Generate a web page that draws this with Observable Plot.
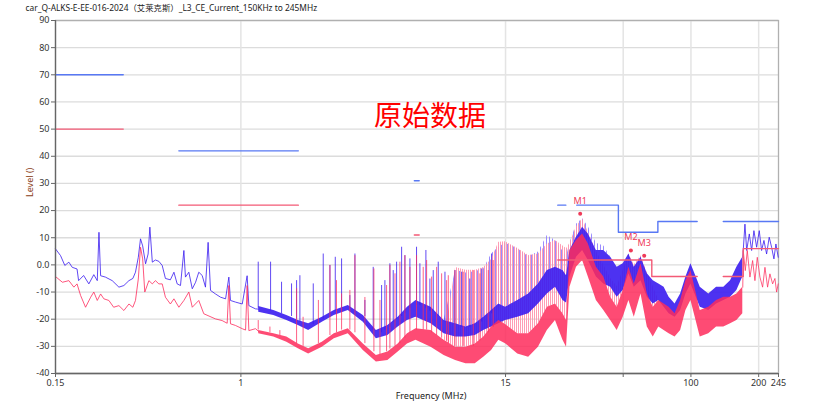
<!DOCTYPE html>
<html><head><meta charset="utf-8">
<script src="https://cdn.jsdelivr.net/npm/d3@7"></script>
<script src="https://cdn.jsdelivr.net/npm/@observablehq/plot@0.6"></script>
<style>html,body{margin:0;padding:0;background:#fff;}</style>
</head><body><div id="chart"></div>
<script>
const title = "car_Q-ALKS-E-EE-016-2024（艾莱克斯）_L3_CE_Current_150KHz to 245MHz";
const xTicks = [0.15, 1, 15, 50, 100, 200, 245];
const xGrid = [1, 15, 50, 100, 200];
const yTicks = [-40,-30,-20,-10,0,10,20,30,40,50,60,70,80,90];

// Peak trace (blue), low-frequency part
const peakLeftF = [0.150,0.158,0.165,0.172,0.178,0.187,0.190,0.200,0.211,0.222,0.230,0.234,0.238,0.250,0.268,0.287,0.302,0.318,0.331,0.340,0.350,0.358,0.366,0.377,0.387,0.394,0.404,0.417,0.432,0.447,0.462,0.486,0.504,0.521,0.539,0.558,0.567,0.587,0.608,0.629,0.650,0.673,0.696,0.715,0.733,0.771,0.812,0.855,0.884,0.899,0.946,1.014,1.066,1.085,1.161,1.2];
const peakLeftV = [5.9,3.4,-0.2,1,-0.9,-1.5,-5.8,-3.9,-7,-3.6,-5.8,12,-4,-4.5,-5.8,-8.2,-7.6,-5.8,-5,-2.7,2.8,9.6,7,0.4,4,13.9,1,1.8,1.3,-0.2,-5,-5.5,-2.7,-7,-7.6,5.3,-4.5,-2.7,-8.8,-6.4,-2.7,-3.9,-8.2,8.3,-9.4,-10.7,-11.9,-12.5,-4.5,-13.1,-13.7,-14.4,-4,-15,-16.2,-16.3];

// Average trace (red), low-frequency part
const avgLeftF = [0.150,0.161,0.172,0.181,0.187,0.194,0.204,0.215,0.222,0.230,0.238,0.246,0.259,0.272,0.287,0.302,0.318,0.331,0.340,0.350,0.358,0.366,0.374,0.390,0.404,0.417,0.432,0.447,0.462,0.486,0.504,0.530,0.558,0.587,0.608,0.650,0.684,0.771,0.825,0.869,0.884,0.899,0.946,1.014,1.049,1.066,1.085,1.161,1.2];
const avgLeftV = [-4.3,-6.4,-5.8,-8.2,-7,-11.3,-15.6,-11.9,-10,-13.1,-10.7,-12.5,-13.1,-15.6,-15,-16.8,-14.4,-15.6,-13.1,-5.2,6.5,2.2,-10,-5.8,-7,-5.8,-7,-7,-11.9,-14.4,-12.5,-15.6,-13.1,-10,-15.6,-13.1,-18,-19.9,-20.5,-21.5,-7.6,-21.7,-22.3,-23.5,-24,-7.6,-24.2,-23.5,-24.5];

// Dense sweep region: sample frequencies with lower/upper body and spike envelope
const bandF = [1.2,1.4,1.6,1.8,2,2.3,2.6,3,3.5,4,4.5,5,5.5,6,7,8,9,10,11,12,13,14,15,17,19,21,23,25,27,28,29,31,33,35,38,41,44,47,50,53,56,60,64,68,72,76,80,85,90,95,100,110,120,130,140,150,160,170];
const peakLo = [-17.4,-18.6,-20.5,-22.3,-24.2,-21.1,-18.6,-16.8,-21.1,-27.2,-26,-22.9,-20.5,-19.3,-21.7,-25.4,-26.6,-26.6,-26,-24.2,-22.9,-21.7,-20.5,-19.3,-18,-14.4,-10.7,-8.2,-13.1,-14,-4.5,2.8,5.3,1.6,-4.5,-7,-8.2,-11.9,-9.4,-3.3,-8.2,-5.8,-11.9,-14.4,-13.1,-15.6,-18,-19.3,-16.8,-10.7,-7,-15.6,-16.8,-14.4,-13.1,-11.9,-9.4,-4.5];
const peakHi = [-15.3,-16.8,-18.6,-20.5,-21.7,-19.3,-16.8,-15,-18.6,-24.2,-22.3,-19.3,-15.6,-13.1,-15.6,-20.5,-21.7,-22.9,-21.7,-19.3,-16.8,-14.4,-15.6,-13.1,-10.7,-7,-2.1,-0.9,-2.1,-4,5.3,10.2,13.9,11.4,5.3,5.3,2.8,-0.9,0.4,4,-0.9,2.8,-3.3,-5.8,-7,-8.2,-11.9,-14.4,-10.7,-4.5,0.4,-8.2,-10.7,-8.2,-8.2,-5.8,-0.9,2.8];
const peakEnv = [-15.3,-16.8,-18.6,-20.5,-21.7,-19.3,-16.8,-15,-18.6,-24.2,-22.3,-19.3,-15.6,-13.1,-15.6,-20.5,-2,-3,-2.5,-1.5,4,6.5,8,5.9,3,4.7,10.8,9,5,3,8,15,17,14,8,7,2.8,-0.9,0.4,4,-0.9,2.8,-3.3,-5.8,-7,-8.2,-11.9,-14.4,-10.7,-4.5,0.4,-8.2,-10.7,-8.2,-8.2,-5.8,-0.9,2.8];
const avgLo = [-25.4,-26.6,-28.5,-30.9,-32.8,-30.3,-27.2,-25.4,-31.5,-35.8,-35.2,-32.1,-29.1,-27.8,-30.3,-33.4,-35.2,-36.4,-36.4,-34,-31.5,-27.8,-29,-32.8,-34,-30.3,-24.2,-20.5,-27.8,-30.3,-8.2,-0.9,1.6,-4.5,-13.1,-16.8,-20.5,-24.2,-19.3,-13.1,-19.3,-10.7,-22.9,-26.6,-22.9,-24.2,-25.4,-26.6,-24.2,-16.8,-13.1,-26.6,-25.4,-22.9,-22.9,-21.7,-20.5,-18];
const avgHi = [-24.2,-25.4,-26.6,-29.1,-30.9,-28.5,-25.4,-23.5,-29.1,-33.4,-32.1,-29.1,-25.4,-23.5,-24.2,-27.8,-30.3,-30.3,-29.1,-26.6,-22.9,-20.5,-22,-25.4,-25.4,-21.7,-15.6,-14.4,-18,-20.5,5.3,9,11.4,7.7,-0.9,-4.5,-11.9,-15.6,-9.4,-0.9,-7,0.4,-10.7,-15.6,-13.1,-14.4,-15.6,-18,-13.1,-5.8,-2.1,-16.8,-15.6,-13.1,-11.9,-11.9,-10.7,-8.2];
const avgEnv = [-24.2,-25.4,-26.6,-29.1,-30.9,-28.5,-25.4,-23.5,-29.1,-33.4,-32.1,-29.1,-25.4,-23.5,-24.2,-27.8,-1,-2,-2,-1,2,8.3,8.5,6,3.5,4,7.7,9,7,5.9,8,14,17,12,5,0,-5,-8,-2,4,0,3.4,-3,-8,-13.1,-14.4,-15.6,-18,-13.1,-5.8,-2.1,-16.8,-15.6,-13.1,-11.9,-11.9,-10.7,-8.2];

// Isolated spikes (1.2 - 13 MHz)
const peakSpikeF = [1.194,1.355,1.516,1.679,1.768,1.829,2.097,2.322,2.487,2.627,2.802,3.050,3.212,3.557,3.873,4.220,4.365,4.594,4.753,4.920,5.179,5.357,5.638,6.034,6.245,6.640,6.918,7.158,7.534,8.07,8.94,9.57,10.4,11.75,13.0];
const peakSpikeTop = [1,1,-6.4,-7,-5.8,-4,-7,4,-0.2,2.8,2.2,-11.3,4,-13.1,-0.9,-7.6,-5.8,0.4,-2.1,1,6.5,3.4,2.2,6.5,0.4,5.3,-5.2,-2.1,1,-2.7,-2.1,-2.7,-5.2,-1.5,4];
const peakSpikeBase = [-16,-17,-18,-19,-20,-21,-22,-20,-18,-17,-16,-16,-17,-19,-24,-25,-24,-23,-21,-20,-19,-18,-16,-15,-15,-16,-17,-17,-19,-21,-22,-23,-23,-21,-18];
const avgSpikeF = [1.194,1.346,1.49,1.768,1.89,2.21,2.487,2.66,2.802,3.05,3.212,3.557,3.90,4.15,4.44,4.594,4.84,5.09,5.357,5.638,6.034,6.46,6.69,7.04,7.41,7.80,8.21,8.35,8.94,9.73,10.78,11.54,12.57,13.22];
const avgSpikeTop = [-20.5,-22.9,-24.2,-8.8,-19.3,-13.1,-0.2,-5.8,-10.7,-9.4,3.4,-12,-1.5,-13.1,-7.6,-0.2,-3.3,1,3.4,-0.9,3.4,-0.9,1.6,-4.5,-0.9,-3.3,-5.8,-4,-2.1,-2.7,-2.1,-3.3,-2.1,1.6];
const avgSpikeBase = [-24,-25,-26,-29,-30,-29,-26,-25,-24,-24,-25,-29,-32,-33,-32,-31,-30,-29,-27,-25,-24,-24,-24,-25,-26,-27,-28,-29,-30,-30,-30,-28,-25,-23];

// High-frequency part (> 170 MHz)
const peakRightF = [170,173.8,176.9,181.7,186.1,190.5,195.9,201.2,206.1,211.1,216.9,222.8,228.3,233.8,238.6,244.3];
const peakRightV = [2.8,15,5.3,11.4,5.3,12.6,6.5,12.6,5.3,9,4,10.2,6.5,2.2,7.7,2.8];
const avgRightF = [170,170.8,174.4,178.0,182.9,188.0,192.5,197.2,202.6,208.2,213.3,219.1,224.4,230.7,236.2,240.3,244.3];
const avgRightV = [-8.2,5.3,-2.1,5.3,-4.5,1.6,-5.8,2.8,-4.5,-8.2,-0.9,-8.2,-3.3,-7,-5,-10,-7];

// Limit lines
const peakLimF = [0.15,0.3, 0.53,1.8, 5.9,6.2, 25.6,27.8, 31.1,47.6,47.6,71.3,71.3,106.6, 139.2,245];
const peakLimL = [70,70, 42,42, 31,31, 22,22, 22,22,12,12,16,16, 16,16];
const peakLimG = [0,0, 1,1, 2,2, 3,3, 4,4,4,4,4,4, 5,5];
const avgLimF = [0.15,0.3, 0.53,1.8, 5.9,6.2, 25.6,67,67,106.6, 139.2,170.8,170.8,245];
const avgLimL = [50,50, 22,22, 11,11, 1.8,1.8,-4.3,-4.3, -4.3,-4.3,6,6];
const avgLimG = [0,0, 1,1, 2,2, 3,3,3,3, 4,4,4,4];

// Markers
const markerName = ["M1","M2","M3"];
const markerF = [32.2, 54.1, 62.0];
const markerL = [18.8, 5.3, 3.4];

const annotation = ["原始数据"];
const annotationF = [3.9];
const annotationL = [54.6];

const BLUE = "#3a1cf0", BLUE_L = "#8f80ff", RED = "#fe2c5c", RED_L = "#ff93ad";
const LIM_B = "#5878f4", LIM_R = "#f35a76", MK = "#ef3a58";

const pts = (F, V) => F.map((f, i) => ({f, v: V[i]}));
const band = bandF.map((f, i) => ({f, plo: peakLo[i], phi: peakHi[i], pen: peakEnv[i], alo: avgLo[i], ahi: avgHi[i], aen: avgEnv[i]}));
const pSp = peakSpikeF.map((f, i) => ({f, t: peakSpikeTop[i], b: peakSpikeBase[i]}));
const aSp = avgSpikeF.map((f, i) => ({f, t: avgSpikeTop[i], b: avgSpikeBase[i]}));
const pLim = peakLimF.map((f, i) => ({f, v: peakLimL[i], g: peakLimG[i]}));
const aLim = avgLimF.map((f, i) => ({f, v: avgLimL[i], g: avgLimG[i]}));
const marks = markerName.map((n, i) => ({n, f: markerF[i], v: markerL[i]}));
const ann = annotation.map((t, i) => ({t, f: annotationF[i], v: annotationL[i]}));

// stripe patterns give the dense sweep its comb texture
function defs() {
  const d = d3.create("svg:defs");
  const mk = (id, color, w, gap, op) => {
    const p = d.append("pattern").attr("id", id).attr("patternUnits", "userSpaceOnUse").attr("width", gap).attr("height", 6);
    p.append("rect").attr("x", 0).attr("y", 0).attr("width", w).attr("height", 6).attr("fill", color).attr("fill-opacity", op);
  };
  mk("stripeRed", RED_L, 1, 2, 0.9);
  mk("stripeBlue", BLUE_L, 1, 3, 0.9);
  return d.node();
}

const chart = Plot.plot({
  width: 830, height: 414,
  marginTop: 20, marginLeft: 55, marginRight: 52, marginBottom: 41,
  style: {fontFamily: "'Noto Sans','Noto Sans CJK SC',sans-serif", fontSize: "9px", background: "#fff", color: "#333"},
  x: {type: "log", domain: [0.15, 245], label: null},
  y: {domain: [-40, 90], label: null},
  marks: [
    defs,
    Plot.gridY(yTicks, {stroke: "#dcdcdc", strokeOpacity: 1, strokeWidth: 1.3}),
    Plot.gridX(xGrid, {stroke: "#e4e4e4", strokeOpacity: 1, strokeWidth: 1.5}),
    Plot.frame({stroke: "#b0b0b0", strokeWidth: 1.3}),
    // spike envelopes (comb texture)
    Plot.areaY(band, {x: "f", y1: "phi", y2: "pen", fill: "url(#stripeBlue)"}),
    Plot.areaY(band, {x: "f", y1: "ahi", y2: "aen", fill: "url(#stripeRed)"}),
    // blue body
    Plot.areaY(band, {x: "f", y1: "plo", y2: "phi", fill: BLUE, fillOpacity: 0.9}),
    Plot.ruleX(pSp, {x: "f", y1: "b", y2: "t", stroke: BLUE, strokeWidth: 1, strokeOpacity: 0.8}),
    Plot.line(pts(peakLeftF, peakLeftV), {x: "f", y: "v", stroke: BLUE, strokeWidth: 1, strokeOpacity: 0.8}),
    Plot.line(pts(peakRightF, peakRightV), {x: "f", y: "v", stroke: BLUE, strokeWidth: 1, strokeOpacity: 0.8}),
    // red body
    Plot.areaY(band, {x: "f", y1: "alo", y2: "ahi", fill: RED, fillOpacity: 0.85}),
    Plot.ruleX(aSp, {x: "f", y1: "b", y2: "t", stroke: RED, strokeWidth: 1, strokeOpacity: 0.75}),
    Plot.line(pts(avgLeftF, avgLeftV), {x: "f", y: "v", stroke: RED, strokeWidth: 1, strokeOpacity: 0.8}),
    Plot.line(pts(avgRightF, avgRightV), {x: "f", y: "v", stroke: RED, strokeWidth: 1, strokeOpacity: 0.75}),
    // limits
    Plot.line(pLim, {x: "f", y: "v", z: "g", stroke: LIM_B, strokeWidth: 1.4}),
    Plot.line(aLim, {x: "f", y: "v", z: "g", stroke: LIM_R, strokeWidth: 1.4}),
    // markers
    Plot.dot(marks, {x: "f", y: "v", r: 2, fill: MK}),
    Plot.text(marks, {x: "f", y: "v", text: "n", dy: -13, fill: MK, fontSize: 9}),
    // axes
    Plot.ruleX([0.15], {stroke: "#666", strokeWidth: 1.3}),
    Plot.ruleY([-40], {stroke: "#666", strokeWidth: 1.3}),
    Plot.axisY(yTicks, {tickSize: 4, tickPadding: 2, stroke: "#666", tickFormat: d => d === 0 ? "0.0" : String(d), fill: "#333"}),
    Plot.axisX(xTicks, {tickSize: 4, tickPadding: 2, stroke: "#666", tickFormat: d => String(d), fill: "#333"}),
    // texts
    Plot.text(ann, {x: "f", y: "v", text: "t", textAnchor: "start", fontSize: 28, fill: "#ff0000", fontFamily: "'Noto Sans CJK SC',sans-serif"}),
    Plot.text([title], {frameAnchor: "top-left", dx: -30, dy: -15.5, textAnchor: "start", fontSize: 8.4, fill: "#222"}),
    Plot.text(["Level ()"], {frameAnchor: "left", dx: -25, rotate: -90, fontSize: 9, fill: "#8a3d18"}),
    Plot.text(["Frequency (MHz)"], {frameAnchor: "bottom", dx: 14, dy: 25, fontSize: 9, fill: "#222"})
  ]
});
document.getElementById("chart").append(chart);
</script>
</body></html>
